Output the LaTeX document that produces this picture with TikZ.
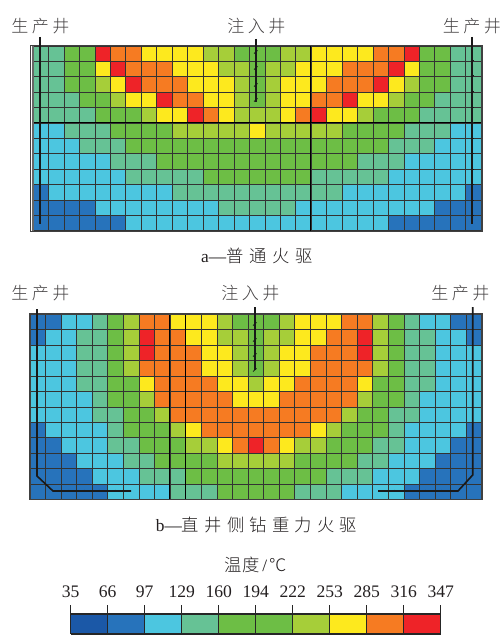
\documentclass[tikz,border=0pt]{standalone}
\usepackage{fontspec}
\setmainfont{Liberation Serif}
\newfontfamily\cjk{Noto Sans CJK SC Light}
\definecolor{colD}{HTML}{1B58A7}
\definecolor{colB}{HTML}{2773BB}
\definecolor{colC}{HTML}{4CC6E0}
\definecolor{colT}{HTML}{66C295}
\definecolor{colG}{HTML}{6DBE45}
\definecolor{colL}{HTML}{A6CE39}
\definecolor{colY}{HTML}{FDE91E}
\definecolor{colO}{HTML}{F67B22}
\definecolor{colR}{HTML}{EE2328}
\definecolor{txt}{HTML}{231F20}
\tikzset{
  gridline/.style={draw=black!80,line width=0.38pt},
  heavyline/.style={draw=black,line width=0.8pt},
  frameline/.style={draw=black!75,line width=1.3pt},
  wellline/.style={draw=black!90,line width=1.2pt},
  welltick/.style={draw=black!90,line width=0.6pt},
  labeltext/.style={inner sep=0pt,text=txt!85,font=\cjk\fontsize{12.8pt}{14pt}\selectfont},
  captext/.style={inner sep=0pt,text=txt,font=\cjk\fontsize{13pt}{14pt}\selectfont},
  numtext/.style={inner sep=0pt,text=txt,font=\fontsize{13.2pt}{14pt}\selectfont}
}
% \heatgrid{x0}{y0}{col width}{row height}{rows}
\newcommand{\heatgrid}[5]{%
  \foreach \therow [count=\j from 0] in {#5}{%
    \foreach \cc [count=\i from 0] in \therow{%
      \fill[col\cc] ({#1+\i*#3},{#2+\j*#4}) rectangle ++({#3+0.2},{#4+0.2});
    }
  }
  \foreach \i in {0,...,29}{\draw[gridline] ({#1+\i*#3},#2) -- ({#1+\i*#3},{#2+12*#4});}
  \foreach \j in {0,...,12}{\draw[gridline] (#1,{#2+\j*#4}) -- ({#1+29*#3},{#2+\j*#4});}
}
\newcommand{\spaced}[3]{\cjk #1\hspace{0.2em}#2\hspace{0.2em}#3}
\begin{document}
\begin{tikzpicture}[x=0.75pt,y=-0.75pt]
\useasboundingbox (0,0) rectangle (502,635);
% --- top grid
\heatgrid{33}{45.8}{15.45}{15.41}{
{T,T,G,G,R,O,O,Y,Y,Y,Y,L,L,G,G,G,L,L,Y,Y,Y,Y,O,O,R,G,G,T,T},
{T,T,G,G,Y,R,O,O,O,Y,Y,Y,L,L,G,L,L,Y,Y,Y,O,O,O,R,Y,G,G,T,T},
{T,T,G,G,L,Y,R,O,O,O,Y,Y,Y,L,G,L,Y,Y,Y,O,O,O,R,Y,L,G,G,T,T},
{T,T,T,G,G,L,Y,Y,R,O,O,Y,Y,L,G,L,Y,Y,O,O,R,Y,Y,L,G,G,T,T,T},
{T,T,T,T,G,G,G,L,Y,Y,R,O,Y,L,L,L,Y,O,R,Y,Y,L,G,G,G,T,T,T,T},
{C,C,T,T,T,G,G,G,G,L,L,L,L,L,Y,L,L,L,L,L,G,G,G,G,T,T,T,C,C},
{C,C,C,T,T,T,G,G,G,G,G,G,G,G,G,G,G,G,G,G,G,G,G,T,T,T,C,C,C},
{C,C,C,C,C,T,T,T,G,G,G,G,G,G,G,G,G,G,G,G,G,T,T,T,C,C,C,C,C},
{C,C,C,C,C,C,T,T,T,T,T,G,G,G,G,G,G,G,T,T,T,T,T,C,C,C,C,C,C},
{B,C,C,C,C,C,C,C,C,T,T,T,T,T,T,T,T,T,T,T,C,C,C,C,C,C,C,C,B},
{B,B,B,B,C,C,C,C,C,C,C,C,T,T,T,T,T,C,C,C,C,C,C,C,C,C,B,B,B},
{B,B,B,B,B,B,C,C,C,C,C,C,C,C,C,C,C,C,C,C,C,C,C,B,B,B,B,B,B}}
\draw[heavyline] (33,122.8) -- (481,122.8);
\draw[heavyline] (310.1,45.8) -- (310.1,230.7);
\draw[frameline] (30.5,45.6) rectangle (481.7,231.4);
\draw[draw=black!60,line width=0.8pt] (33,45.6) -- (33,231.4);
% --- bottom grid
\heatgrid{29.8}{314.3}{15.585}{15.41}{
{B,B,C,C,T,G,L,O,O,Y,Y,Y,L,G,G,G,L,Y,Y,Y,O,O,L,G,T,C,C,B,B},
{B,C,C,T,T,G,L,R,O,O,Y,Y,L,L,G,L,L,Y,Y,O,O,R,L,G,T,T,C,C,B},
{C,C,C,T,T,G,L,R,O,O,O,Y,Y,L,G,L,Y,Y,O,O,O,R,L,G,T,T,C,C,C},
{C,C,C,T,T,G,L,O,O,O,O,Y,Y,L,G,L,Y,Y,O,O,O,O,L,G,T,T,C,C,C},
{C,C,C,T,T,G,G,Y,O,O,O,O,Y,Y,L,Y,Y,O,O,O,O,Y,G,G,T,T,C,C,C},
{C,C,C,C,T,G,G,L,O,O,O,O,O,Y,Y,Y,O,O,O,O,O,L,G,G,T,C,C,C,C},
{C,C,C,C,T,T,G,G,L,O,O,O,O,O,O,O,O,O,O,O,L,G,G,T,T,C,C,C,C},
{B,C,C,C,C,T,G,G,G,L,Y,O,O,O,O,O,O,O,Y,L,G,G,G,T,C,C,C,C,B},
{B,B,C,C,C,T,T,G,G,G,L,L,Y,O,R,O,Y,L,L,G,G,G,T,T,C,C,C,B,B},
{B,B,B,C,C,C,T,T,G,G,G,G,L,L,L,L,L,G,G,G,G,T,T,C,C,C,B,B,B},
{B,B,B,B,C,C,C,T,T,T,G,G,G,G,G,G,G,G,G,T,T,T,C,C,C,B,B,B,B},
{B,B,B,B,B,C,C,C,C,T,T,T,G,G,G,G,G,T,T,T,C,C,C,C,B,B,B,B,B}}
\draw[heavyline] (185.4,314.3) -- (185.4,499.2);
\draw[draw=black,line width=0.55pt] (169.8,314.3) -- (169.8,499.2);
\draw[frameline] (29.8,314) rectangle (481.9,499.6);
% --- wells, top
\coordinate (tpl) at (40,37); \coordinate (tpl2) at (40,224);
\coordinate (tpr) at (471.7,37); \coordinate (tpr2) at (471.7,224);
\coordinate (tin) at (256,39); \coordinate (tin2) at (256,102);
\draw[wellline] (tpl) -- (tpl2);
\draw[wellline] (tpr) -- (tpr2);
\draw[wellline,line width=1pt] (tin) -- (tin2);
\foreach \yy in {52,68,85,100}{\draw[welltick] (254,\yy+1.5) -- (257.5,\yy-1.5);}
\foreach \yy in {60,75,91,107,122,138,153,169,184,200,215}{\draw[welltick] (470.5,\yy) -- (473.5,\yy);}
% --- wells, bottom
\coordinate (bin) at (255,307); \coordinate (bin2) at (255,370);
\coordinate (bl1) at (37,309); \coordinate (bl2) at (37,476); \coordinate (bl3) at (53,491); \coordinate (bl4) at (131,491);
\coordinate (br1) at (472.7,307); \coordinate (br2) at (472.7,475); \coordinate (br3) at (458,491); \coordinate (br4) at (378,491);
\draw[wellline,line width=1pt] (bin) -- (bin2);
\foreach \yy in {324,340,355,370}{\draw[welltick] (253,\yy+1.5) -- (256.5,\yy-1.5);}
\draw[wellline] (bl1) -- (bl2) -- (bl3) -- (bl4);
\draw[wellline] (br1) -- (br2) -- (br3) -- (br4);
\foreach \xx in {68,84,99,115}{\draw[welltick] (\xx,489.5) -- (\xx,491);}
\foreach \xx in {394,410,425,441}{\draw[welltick] (\xx,489.5) -- (\xx,491);}
% --- labels
\node[labeltext] (L1) at (40.5,26) {\spaced{生}{产}{井}};
\node[labeltext] (L2) at (256.5,26) {\spaced{注}{入}{井}};
\node[labeltext] (L3) at (472,26) {\spaced{生}{产}{井}};
\node[labeltext] (L4) at (40.5,293) {\spaced{生}{产}{井}};
\node[labeltext] (L5) at (250.5,293) {\spaced{注}{入}{井}};
\node[labeltext] (L6) at (460.5,293) {\spaced{生}{产}{井}};
\node[captext] (capa) at (257,256) {{\rmfamily a—}普\hspace{0.33em}通\hspace{0.33em}火\hspace{0.33em}驱};
\node[captext] (capb) at (256.5,525) {{\rmfamily b—}直\hspace{0.3em}井\hspace{0.3em}侧\hspace{0.3em}钻\hspace{0.3em}重\hspace{0.3em}力\hspace{0.3em}火\hspace{0.3em}驱};
\node[captext] (captemp) at (256,564.5) {温度\hspace{0.15em}{\rmfamily /}\hspace{0.15em}℃};
% --- legend
\foreach \cc [count=\i from 0] in {D,B,C,T,G,G,L,Y,O,R}{
  \fill[col\cc] ({70.7+\i*37},614) rectangle ++(37,20);
}
\draw[draw=black!85,line width=0.9pt] (70.7,614) -- (440.7,614);
\draw[draw=black!85,line width=0.9pt] (70.7,634) -- (440.7,634);
\foreach \v [count=\i from 0] in {35,66,97,129,160,194,222,253,285,316,347}{
  \node[numtext] (n\i) at ({70.7+\i*37},591.5) {\v};
  \draw[draw=black!85,line width=0.7pt] ({70.7+\i*37},605) -- ({70.7+\i*37},634);
}
\end{tikzpicture}
\end{document}
